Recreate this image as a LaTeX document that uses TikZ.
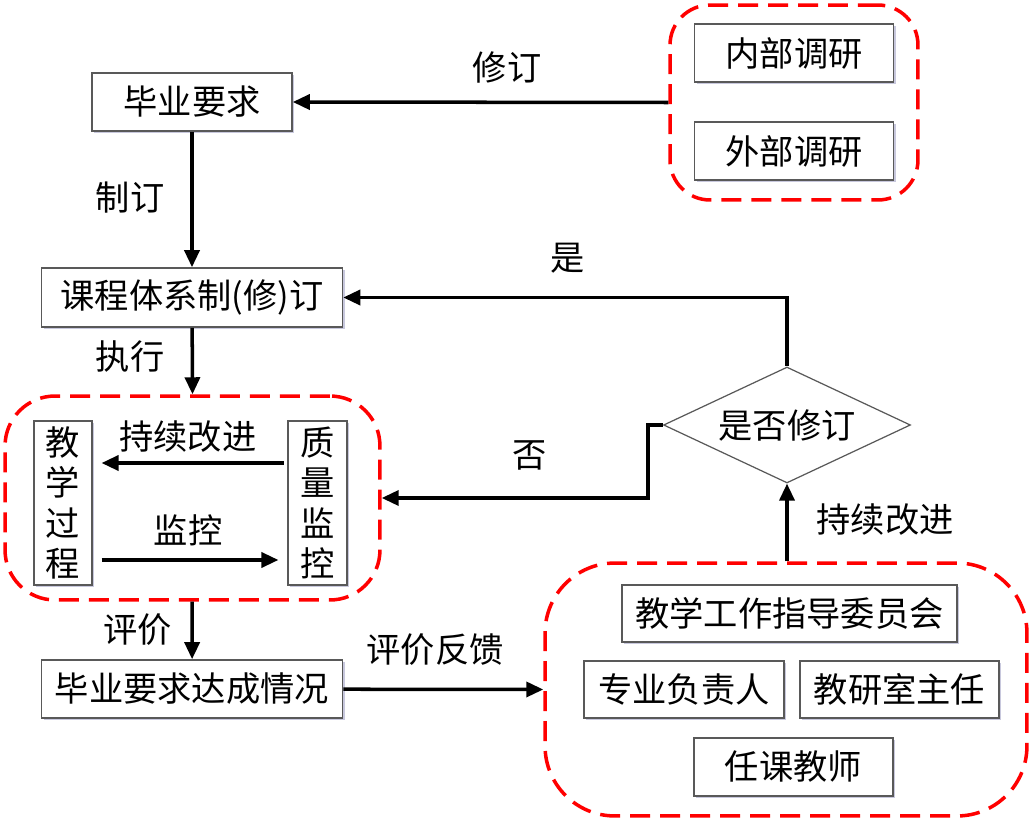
\documentclass[tikz,border=0pt]{standalone}
\usepackage{fontspec}
\setmainfont{Noto Sans CJK SC}
\usetikzlibrary{arrows.meta,shapes.geometric,shadows}

\tikzset{
  box/.style={draw=black!65, line width=0.9pt, fill=white, inner sep=0pt,
    drop shadow={shadow xshift=1.2pt, shadow yshift=-1.2pt, fill=blue!25!gray, opacity=0.35},
    font=\fontsize{19.5}{23}\selectfont},
  grp/.style={draw=red, dash pattern=on 0.4cm off 0.2cm, line width=2pt, inner sep=0pt},
  lbl/.style={font=\fontsize{19.5}{23}\selectfont},
  arr/.style={line width=2pt, -{Triangle[length=0.34cm, width=0.3cm]}}
}

\begin{document}
\begin{tikzpicture}[x=0.02cm, y=-0.02cm]
      \useasboundingbox (0,0) rectangle (1032,821);
      % groups
      \node[grp, rounded corners=0.8cm, minimum width=4.96cm, minimum height=3.9cm] (survey) at (794,102.5) {};
      \node[grp, rounded corners=1cm, minimum width=7.5cm, minimum height=4.08cm] (loop) at (192.5,498) {};
      \node[grp, rounded corners=1.4cm, minimum width=9.64cm, minimum height=5.06cm] (panel) at (786,689.5) {};
      % boxes
      \node[box, minimum width=4cm, minimum height=1.16cm] (req) at (192,102) {毕业要求};
      \node[box, minimum width=3.98cm, minimum height=1.16cm] (inner) at (794,53) {内部调研};
      \node[box, minimum width=3.98cm, minimum height=1.16cm] (outer) at (794,151) {外部调研};
      \node[box, minimum width=6.02cm, minimum height=1.18cm] (curr) at (192,297.5) {课程体系制(修)订};
      \node[box, minimum width=1.16cm, minimum height=3.28cm, align=center] (teach) at (63,503) {教\\学\\过\\程};
      \node[box, minimum width=1.18cm, minimum height=3.28cm, align=center] (qual) at (317.5,503) {质\\量\\监\\控};
      \node[box, minimum width=6.02cm, minimum height=1.16cm] (outcome) at (192,689) {毕业要求达成情况};
      \node[box, minimum width=6.7cm, minimum height=1.14cm] (commit) at (789.5,613.5) {教学工作指导委员会};
      \node[box, minimum width=4cm, minimum height=1.14cm] (head) at (684,689.5) {专业负责人};
      \node[box, minimum width=3.98cm, minimum height=1.14cm] (dean) at (899.5,689.5) {教研室主任};
      \node[box, minimum width=3.98cm, minimum height=1.16cm] (teacher) at (793.5,767) {任课教师};
      \node[diamond, draw=black!65, line width=0.7pt, aspect=2.1, inner sep=0pt,
        minimum width=4.94cm, minimum height=2.32cm, lbl] (decide) at (787,425) {是否修订};
      % labels
      \node[lbl] (revise) at (507,67) {修订};
      \node[lbl] (make) at (130,198) {制订};
      \node[lbl] (yes) at (568,258) {是};
      \node[lbl] (run) at (130,357) {执行};
      \node[lbl] (improve) at (188,437) {持续改进};
      \node[lbl] (monitor) at (188,530) {监控};
      \node[lbl] (no) at (530,455) {否};
      \node[lbl] (improve2) at (885,520) {持续改进};
      \node[lbl] (assess) at (138,630) {评价};
      \node[lbl] (feedback) at (435,650) {评价反馈};
      % connectors
      \coordinate (bend) at (648,425);
      \draw[arr] (survey.west) -- (req.east);
      \draw[arr] (req) -- (curr);
      \draw[arr] (curr) -- (loop.north);
      \draw[arr] (loop) -- (outcome);
      \draw[arr] (outcome) -- (panel.west);
      \draw[arr] (decide.south |- panel.north) -- (decide.south);
      \draw[arr] (decide.north) |- (curr.east);
      \draw[arr] (decide.west) -- (bend) |- (loop.east);
      \draw[arr, shorten <=2pt, shorten >=5pt] ([yshift=0.8cm]qual.west) -- ([yshift=0.8cm]teach.east);
      \draw[arr, shorten <=5pt, shorten >=5pt] ([yshift=-1.14cm]teach.east) -- ([yshift=-1.14cm]qual.west);
\end{tikzpicture}
\end{document}
